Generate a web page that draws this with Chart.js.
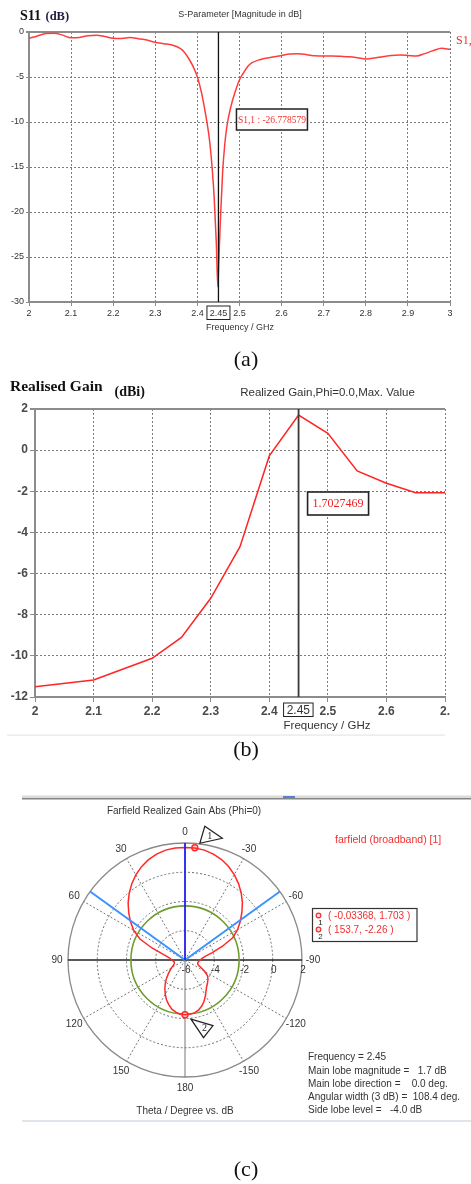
<!DOCTYPE html>
<html><head><meta charset="utf-8">
<script src="https://cdn.jsdelivr.net/npm/chart.js@4.4.0/dist/chart.umd.min.js"></script>
<style>
html,body{margin:0;padding:0;background:#fff;}
body{width:471px;height:1184px;position:relative;overflow:hidden;}
canvas{position:absolute;left:0;}
#ca{top:0;} #cb{top:370px;} #cc{top:780px;}
</style></head><body>
<canvas id="ca" width="471" height="370"></canvas>
<canvas id="cb" width="471" height="395"></canvas>
<canvas id="cc" width="471" height="404"></canvas>
<script>
// ---------------- (a) S11 ----------------
const s11Freq = [2.00,2.02,2.04,2.06,2.08,2.10,2.12,2.14,2.16,2.18,2.20,2.22,2.24,2.26,2.28,2.30,2.32,2.34,2.36,
  2.37,2.38,2.39,2.40,2.41,2.42,2.43,2.44,
  2.445,2.4485,2.45,2.452,2.455,2.46,2.465,2.47,
  2.48,2.49,2.50,2.51,2.52,2.53,2.55,2.57,
  2.60,2.62,2.64,2.66,2.68,2.70,2.72,2.74,2.76,2.78,2.80,2.82,2.84,2.86,2.88,2.90,2.92,2.94,2.96,2.98,3.00];
const s11Db = [-0.70,-0.45,-0.18,-0.15,-0.35,-0.65,-0.60,-0.42,-0.35,-0.50,-0.70,-0.72,-0.62,-0.75,-0.90,-1.15,-1.30,-1.45,-1.85,
  -2.30,-3.00,-3.85,-5.00,-6.80,-9.30,-12.5,-18.5,
  -23.5,-28.3,-26.78,-24.0,-20.5,-15.5,-12.5,-10.5,
  -8.2,-6.6,-5.3,-4.5,-3.8,-3.4,-3.05,-2.85,
  -2.6,-2.45,-2.42,-2.52,-2.65,-2.67,-2.67,-2.70,-2.74,-2.85,-3.0,-2.9,-2.74,-2.62,-2.56,-2.6,-2.67,-2.4,-2.07,-1.8,-1.93];
const s11FreqTicks = [2,2.1,2.2,2.3,2.4,2.5,2.6,2.7,2.8,2.9,3];
const s11FreqTickLabels = ['2','2.1','2.2','2.3','2.4','2.5','2.6','2.7','2.8','2.9','3'];
const s11DbTicks = [-30,-25,-20,-15,-10,-5,0];
const s11MarkerFreq = 2.45;
const s11MarkerValue = -26.778579;

// ---------------- (b) Realised gain ----------------
const gainFreq = [2.0,2.1,2.2,2.25,2.3,2.35,2.4,2.45,2.5,2.55,2.6,2.65,2.7];
const gainDbi = [-11.5,-11.17,-10.12,-9.1,-7.2,-4.69,-0.28,1.7027469,0.82,-1.01,-1.61,-2.07,-2.07];
const gainFreqTicks = [2,2.1,2.2,2.3,2.4,2.5,2.6,2.7];
const gainFreqTickLabels = ['2','2.1','2.2','2.3','2.4','2.5','2.6','2.'];
const gainDbiTicks = [-12,-10,-8,-6,-4,-2,0,2];
const gainMarkerFreq = 2.45;
const gainMarkerValue = 1.7027469;

// ---------------- (c) Farfield polar ----------------
const polarTheta = [0,-5,-10,-15,-20,-25,-30,-35,-40,-45,-50,-55,-60,-65,-70,-75,-80,-85,-90,
  -95,-100,-105,-110,-115,-120,-125,-130,-135,-140,-145,-150,-155,-160,-165,-170,-175,180,
  175,170,165,160,155,150,145,140,135,130,125,120,115,110,105,100,95,90,
  85,80,75,70,65,60,55,50,45,40,35,30,25,20,15,10,5];
const polarGain = [1.70,1.69,1.63,1.50,1.31,1.05,0.74,0.38,-0.02,-0.45,-0.92,-1.38,-1.85,-2.40,-3.30,-4.10,-4.60,-4.85,-4.95,
  -5.05,-5.10,-5.10,-5.05,-4.80,-4.45,-4.12,-3.95,-3.82,-3.68,-3.48,-3.20,-2.90,-2.65,-2.45,-2.33,-2.27,-2.25,
  -2.28,-2.38,-2.52,-2.75,-3.00,-3.30,-3.60,-3.90,-4.20,-4.50,-4.75,-4.95,-5.12,-5.20,-5.25,-5.25,-5.20,-5.10,
  -5.00,-4.80,-4.40,-3.60,-2.60,-1.95,-1.45,-0.98,-0.50,-0.06,0.35,0.72,1.04,1.30,1.50,1.63,1.69];
const polarAngleTicks = [0,-30,-60,-90,-120,-150,180,150,120,90,60,30];
const polarRadialTicks = [-6,-4,-2,0,2];
const polarMarkerDrawnAt = [-5,180];          // where the marker dots appear in the plot
const polarMarkerGain = [1.703,-2.26];
const polarMarkerText = ['( -0.03368, 1.703 )','( 153.7, -2.26 )'];
const farfieldFrequency = 2.45;
const mainLobeMagnitude = 1.7;
const mainLobeDirection = 0.0;
const angularWidth3dB = 108.4;
const sideLobeLevel = -4.0;

// ---------------- helpers ----------------
const SANS = '"Liberation Sans", Arial, sans-serif';
const SERIF = '"Liberation Serif", "Times New Roman", serif';
Chart.defaults.font.family = SANS;
function T(ctx, s, x, y, font, color, align, base){
  ctx.save(); ctx.font = font; ctx.fillStyle = color; ctx.textAlign = align||'left';
  ctx.textBaseline = base||'middle'; ctx.fillText(s, x, y); ctx.restore();
}
function boxText(ctx, s, x0, y0, w, h, font, color, lw){
  ctx.save(); ctx.strokeStyle = '#222'; ctx.lineWidth = lw||1.3;
  ctx.fillStyle = '#fff'; ctx.fillRect(x0,y0,w,h); ctx.strokeRect(x0,y0,w,h); ctx.restore();
  T(ctx, s, x0+w/2, y0+h/2+0.5, font, color, 'center');
}
const GRIDC = '#7a7a7a', AXC = '#8c8c8c', LBL = '#333';

// ---------------- chart (a) ----------------
const s11Extras = {
  id:'s11Extras',
  afterDatasetsDraw(chart){
    const {ctx, chartArea:a, scales:{x}} = chart;
    const mx = x.getPixelForValue(s11MarkerFreq);
    ctx.save(); ctx.strokeStyle='#111'; ctx.lineWidth=1.3;
    ctx.beginPath(); ctx.moveTo(mx,a.top); ctx.lineTo(mx,a.bottom); ctx.stroke(); ctx.restore();
    boxText(ctx, 'S1,1 : ' + s11MarkerValue.toFixed(6), mx+18, a.top+77, 71, 21, '9.5px '+SERIF, '#f03030', 1.5);
  },
  afterDraw(chart){
    const {ctx, chartArea:a, scales:{x}} = chart;
    const mx = x.getPixelForValue(s11MarkerFreq);
    T(ctx,'S11',20,16,'bold 14px '+SERIF,'#111');
    T(ctx,'(dB)',45.5,17,'bold 12.5px '+SERIF,'#1c1c40');
    T(ctx,'S-Parameter [Magnitude in dB]',240,15,'9px '+SANS,LBL,'center');
    T(ctx,'S1,1',456,41,'12px '+SERIF,'#f03030');
    boxText(ctx,String(s11MarkerFreq),mx-11.5,a.bottom+4,23,13.5,'9px '+SANS,LBL,1);
    T(ctx,'Frequency / GHz',240,a.bottom+26,'9px '+SANS,LBL,'center');
    T(ctx,'(a)',246,360,'22px '+SERIF,'#111','center');
  }
};
new Chart(document.getElementById('ca'), {
  type:'line',
  data:{datasets:[{data:s11Freq.map((f,i)=>({x:f,y:s11Db[i]})), borderColor:'#ff3c3c', borderWidth:1.5,
    pointRadius:0, cubicInterpolationMode:'monotone', fill:false}]},
  options:{
    responsive:false, animation:false, events:[],
    layout:{padding:{top:32,right:21,left:0,bottom:30}},
    plugins:{legend:{display:false}, tooltip:{enabled:false}},
    scales:{
      x:{type:'linear', min:2, max:3,
        afterBuildTicks:s=>{s.ticks = s11FreqTicks.map(v=>({value:v}));},
        afterFit:s=>{s.height=38; s.paddingLeft=0; s.paddingRight=0;},
        ticks:{callback:(v,i)=>s11FreqTickLabels[i], font:{size:9}, color:LBL, padding:2, maxRotation:0, autoSkip:false},
        grid:{color:GRIDC, lineWidth:1, tickLength:4, tickColor:AXC},
        border:{display:true, color:AXC, width:2, dash:[2,2]}},
      y:{type:'linear', min:-30, max:0,
        afterBuildTicks:s=>{s.ticks = s11DbTicks.map(v=>({value:v}));},
        afterFit:s=>{s.width=29; s.paddingTop=0; s.paddingBottom=0;},
        ticks:{callback:v=>String(v), font:{size:9}, color:LBL, padding:2, autoSkip:false},
        grid:{color:c=>(c.tick&&c.tick.value===0)?AXC:GRIDC, lineWidth:c=>(c.tick&&c.tick.value===0)?2:1, tickLength:3, tickColor:AXC},
        border:{display:true, color:AXC, width:2, dash:c=>(c.tick&&c.tick.value===0)?[]:[2,2]}}
    }
  },
  plugins:[s11Extras]
});

// ---------------- chart (b) ----------------
const gainExtras = {
  id:'gainExtras',
  afterDatasetsDraw(chart){
    const {ctx, chartArea:a, scales:{x}} = chart;
    const mx = x.getPixelForValue(gainMarkerFreq);
    ctx.save(); ctx.strokeStyle='#3a3a3a'; ctx.lineWidth=1.8;
    ctx.beginPath(); ctx.moveTo(mx,a.top); ctx.lineTo(mx,a.bottom); ctx.stroke(); ctx.restore();
    boxText(ctx, gainMarkerValue.toFixed(7), mx+9, a.top+83, 61, 23, '12px '+SERIF, '#f02020', 1.6);
  },
  afterDraw(chart){
    const {ctx, chartArea:a, scales:{x}} = chart;
    const mx = x.getPixelForValue(gainMarkerFreq);
    T(ctx,'Realised Gain',10,17,'bold 15.5px '+SERIF,'#111');
    T(ctx,'(dBi)',114.5,22,'bold 14px '+SERIF,'#111');
    T(ctx,'Realized Gain,Phi=0.0,Max. Value',327.5,22.5,'11.5px '+SANS,LBL,'center');
    boxText(ctx,String(gainMarkerFreq),mx-15,a.bottom+6,29.5,13.5,'12px '+SANS,LBL,1);
    T(ctx,'Frequency / GHz',327,a.bottom+29,'11.5px '+SANS,LBL,'center');
    ctx.save(); ctx.fillStyle='#e6e6e6'; ctx.fillRect(7,364.5,438,1.2); ctx.restore();
    T(ctx,'(b)',246,380,'22px '+SERIF,'#111','center');
  }
};
new Chart(document.getElementById('cb'), {
  type:'line',
  data:{datasets:[{data:gainFreq.map((f,i)=>({x:f,y:gainDbi[i]})), borderColor:'#ff2424', borderWidth:1.5,
    pointRadius:0, tension:0, fill:false}]},
  options:{
    responsive:false, animation:false, events:[],
    layout:{padding:{top:39,right:26,left:0,bottom:15}},
    plugins:{legend:{display:false}, tooltip:{enabled:false}},
    scales:{
      x:{type:'linear', min:2, max:2.7,
        afterBuildTicks:s=>{s.ticks = gainFreqTicks.map(v=>({value:v}));},
        afterFit:s=>{s.height=53; s.paddingLeft=0; s.paddingRight=0;},
        ticks:{callback:(v,i)=>gainFreqTickLabels[i], font:{size:12, weight:'bold'}, color:'#4a4a4a', padding:2, maxRotation:0, autoSkip:false},
        grid:{color:GRIDC, lineWidth:1, tickLength:5, tickColor:AXC},
        border:{display:true, color:AXC, width:2, dash:[2,2]}},
      y:{type:'linear', min:-12, max:2,
        afterBuildTicks:s=>{s.ticks = gainDbiTicks.map(v=>({value:v}));},
        afterFit:s=>{s.width=35; s.paddingTop=0; s.paddingBottom=0;},
        ticks:{callback:v=>String(v), font:{size:12, weight:'bold'}, color:'#4a4a4a', padding:2, autoSkip:false},
        grid:{color:c=>(c.tick&&c.tick.value===2)?AXC:GRIDC, lineWidth:c=>(c.tick&&c.tick.value===2)?2:1, tickLength:5, tickColor:AXC},
        border:{display:true, color:AXC, width:2, dash:c=>(c.tick&&c.tick.value===2)?[]:[2,2]}}
    }
  },
  plugins:[gainExtras]
});

// ---------------- chart (c) ----------------
function thetaIndex(t){ return t <= 0 ? -t/5 : polarTheta.length - t/5; }
const polarMarkerData = polarTheta.map(t=>{ const k = polarMarkerDrawnAt.indexOf(t); return k<0 ? null : polarMarkerGain[k]; });
const polarExtras = {
  id:'polarExtras',
  beforeDraw(chart){
    const ctx = chart.ctx;
    ctx.save();
    ctx.fillStyle='#dedad6'; ctx.fillRect(22,15.5,449,2.5);
    ctx.fillStyle='#858585'; ctx.fillRect(22,18,449,1.5);
    ctx.fillStyle='#5b7fd6'; ctx.fillRect(283,16,12,2);
    ctx.fillStyle='#e0e5eb'; ctx.fillRect(22,340,449,2);
    ctx.restore();
  },
  beforeDatasetsDraw(chart){
    const ctx = chart.ctx, r = chart.scales.r;
    const rad = r.getDistanceFromCenterForValue(mainLobeMagnitude + sideLobeLevel);
    ctx.save(); ctx.strokeStyle='#6e9c30'; ctx.lineWidth=1.6;
    ctx.beginPath(); ctx.arc(r.xCenter, r.yCenter, rad, 0, Math.PI*2); ctx.stroke(); ctx.restore();
  },
  afterDatasetsDraw(chart){
    const ctx = chart.ctx, r = chart.scales.r;
    const half = angularWidth3dB/2;
    ctx.save();
    ctx.strokeStyle='#3a92ff'; ctx.lineWidth=2;
    [mainLobeDirection+half, mainLobeDirection-half].forEach(t=>{
      const p = r.getPointPosition(thetaIndex(t), r.drawingArea);
      ctx.beginPath(); ctx.moveTo(r.xCenter,r.yCenter); ctx.lineTo(p.x,p.y); ctx.stroke();
    });
    ctx.strokeStyle='#1414ff'; ctx.lineWidth=1.6;
    const p0 = r.getPointPosition(thetaIndex(mainLobeDirection), r.drawingArea);
    ctx.beginPath(); ctx.moveTo(r.xCenter,r.yCenter); ctx.lineTo(p0.x,p0.y); ctx.stroke();
    ctx.restore();
    // marker triangles
    const m1 = r.getPointPositionForValue(thetaIndex(polarMarkerDrawnAt[0]), polarMarkerGain[0]);
    const m2 = r.getPointPositionForValue(thetaIndex(polarMarkerDrawnAt[1]), polarMarkerGain[1]);
    function tri(m, pts, lbl, lx, ly){
      ctx.save(); ctx.strokeStyle='#222'; ctx.lineWidth=1.2; ctx.fillStyle='#fff';
      ctx.beginPath(); ctx.moveTo(m.x+pts[0][0], m.y+pts[0][1]);
      for(let i=1;i<pts.length;i++) ctx.lineTo(m.x+pts[i][0], m.y+pts[i][1]);
      ctx.closePath(); ctx.fill(); ctx.stroke(); ctx.restore();
      T(ctx, lbl, m.x+lx, m.y+ly, '10px '+SERIF, '#222', 'center');
    }
    tri(m1, [[5,-4.5],[10,-21.5],[27.5,-9.5]], '1', 15, -11.5);
    tri(m2, [[6,4.5],[28,11],[18.5,23]], '2', 19.5, 14);
  },
  afterDraw(chart){
    const ctx = chart.ctx, r = chart.scales.r;
    const F = '10px '+SANS;
    polarAngleTicks.forEach(t=>{
      const p = r.getPointPosition(polarTheta.indexOf(t), r.drawingArea + 11);
      T(ctx, String(t), p.x, p.y, F, LBL, 'center');
    });
    const iH = polarTheta.indexOf(-90);
    polarRadialTicks.forEach(v=>{
      const p = r.getPointPositionForValue(iH, v);
      T(ctx, String(v), p.x+1, p.y+10, F, LBL, 'center');
    });
    T(ctx,'Farfield Realized Gain Abs (Phi=0)',184,31.5,F,LBL,'center');
    T(ctx,'farfield (broadband) [1]',335,60.5,'10.5px '+SANS,'#f03030');
    // marker legend box
    ctx.save(); ctx.strokeStyle='#333'; ctx.lineWidth=1.2; ctx.strokeRect(312.5,128.5,104.5,33); ctx.restore();
    [0,1].forEach(k=>{
      const yy = 136.5 + k*14;
      ctx.save(); ctx.strokeStyle='#f03030'; ctx.fillStyle='#ffd6d6'; ctx.lineWidth=1.2;
      ctx.beginPath(); ctx.arc(318.5, yy-1, 2.3, 0, Math.PI*2); ctx.fill(); ctx.stroke(); ctx.restore();
      T(ctx, String(k+1), 320.5, yy+6, '8px '+SANS, '#222', 'center');
      T(ctx, polarMarkerText[k], 328, yy, F, '#f03030');
    });
    const info = ['Frequency = ' + farfieldFrequency,
      'Main lobe magnitude =   ' + mainLobeMagnitude.toFixed(1) + ' dB',
      'Main lobe direction =    ' + mainLobeDirection.toFixed(1) + ' deg.',
      'Angular width (3 dB) =  ' + angularWidth3dB.toFixed(1) + ' deg.',
      'Side lobe level =   ' + sideLobeLevel.toFixed(1) + ' dB'];
    info.forEach((s,i)=>T(ctx, s, 308, 277.5 + i*13.3, F, LBL));
    T(ctx,'Theta / Degree vs. dB',185,331,F,LBL,'center');
    T(ctx,'(c)',246,390,'22px '+SERIF,'#111','center');
  }
};
new Chart(document.getElementById('cc'), {
  type:'radar',
  data:{labels:polarTheta.map(String), datasets:[
    {data:polarGain, borderColor:'#ff2828', borderWidth:1.5, pointRadius:0, fill:false, tension:0},
    {data:polarMarkerData, showLine:false, pointRadius:3, pointBorderWidth:1.4, pointBorderColor:'#ff2828', pointBackgroundColor:'#ffd0d0'}
  ]},
  options:{
    responsive:false, animation:false, events:[],
    layout:{padding:{left:68, top:63, right:169, bottom:107}},
    plugins:{legend:{display:false}, tooltip:{enabled:false}},
    scales:{r:{min:-6, max:2, startAngle:0,
      afterBuildTicks:s=>{s.ticks = polarRadialTicks.map(v=>({value:v}));},
      ticks:{display:false},
      pointLabels:{display:false},
      grid:{circular:true, color:c=>(c.tick&&c.tick.value===2)?'#8a8a8a':'#6e6e6e', lineWidth:c=>(c.tick&&c.tick.value===2)?1.3:1},
      border:{dash:c=>(c.tick&&c.tick.value===2)?[]:[2,2]},
      angleLines:{display:true,
        color:c=>{const t=polarTheta[c.index]; return (t===90||t===-90)?'#222':'#777';},
        lineWidth:c=>{const t=polarTheta[c.index]; if(t%30!==0) return 0; return (t===90||t===-90)?1.3:1;},
        borderDash:c=>{const t=polarTheta[c.index]; return (t%90===0)?[]:[2,2];}}
    }}
  },
  plugins:[polarExtras]
});
</script>
</body></html>
